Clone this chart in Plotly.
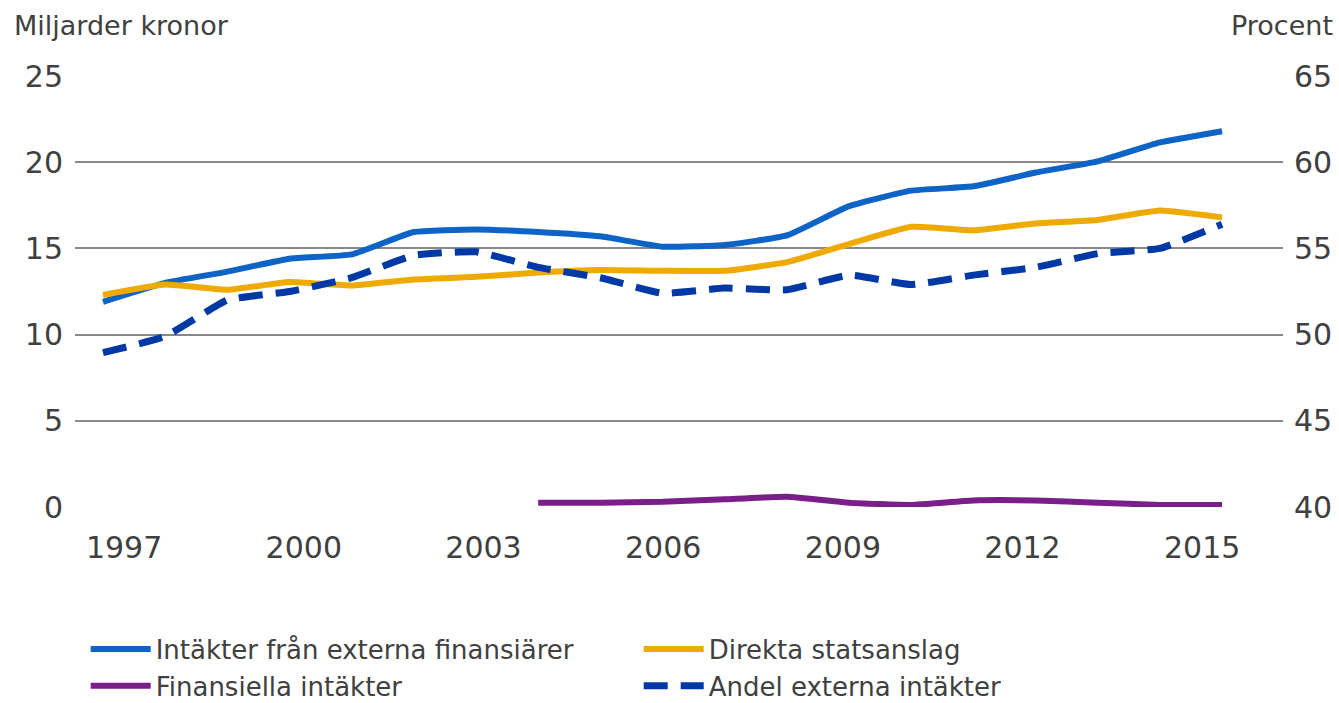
import plotly.graph_objects as go

years = list(range(1997, 2016))

externa = [11.9, 13.0, 13.65, 14.4, 14.65, 15.95, 16.1, 15.95, 15.7, 15.1, 15.2, 15.75,
           17.45, 18.35, 18.6, 19.4, 20.05, 21.15, 21.8]
statsanslag = [12.3, 12.9, 12.6, 13.05, 12.85, 13.2, 13.35, 13.6, 13.75, 13.7, 13.7, 14.2,
               15.25, 16.25, 16.05, 16.45, 16.65, 17.2, 16.8]
fin_years = list(range(2004, 2016))
finansiella = [0.25, 0.25, 0.3, 0.45, 0.6, 0.25, 0.12, 0.38, 0.38, 0.25, 0.12, 0.12]
andel = [48.95, 49.9, 52.0, 52.5, 53.3, 54.6, 54.8, 53.9, 53.3, 52.4, 52.7, 52.6,
         53.45, 52.9, 53.45, 53.9, 54.7, 55.0, 56.4]

tick_years = [1997, 2000, 2003, 2006, 2009, 2012, 2015]
tick_pos = [1997.34 + (y - 1997) * 0.9633 for y in tick_years]

names = ["Intäkter från externa finansiärer", "Direkta statsanslag",
         "Finansiella intäkter", "Andel externa intäkter"]
colors = ["#0D63C6", "#EFAA00", "#7A1E8A", "#0039A6"]

FONT = "DejaVu Sans"
TXT = "#404040"

fig = go.Figure()
fig.add_trace(go.Scatter(x=years, y=externa, name=names[0], mode="lines",
                         line=dict(color=colors[0], width=6, shape="spline", smoothing=0.4)))
fig.add_trace(go.Scatter(x=years, y=statsanslag, name=names[1], mode="lines",
                         line=dict(color=colors[1], width=6, shape="spline", smoothing=0.4)))
fig.add_trace(go.Scatter(x=fin_years, y=finansiella, name=names[2], mode="lines",
                         line=dict(color=colors[2], width=6, shape="spline", smoothing=0.4)))
fig.add_trace(go.Scatter(x=years, y=andel, name=names[3], mode="lines", yaxis="y2",
                         line=dict(color=colors[3], width=7, dash="24px,13px",
                                   shape="spline", smoothing=0.4)))

fig.update_layout(
    width=1339, height=703,
    margin=dict(l=75, r=56, t=76, b=196, autoexpand=False),
    paper_bgcolor="white", plot_bgcolor="white",
    font=dict(family=FONT, color=TXT),
    xaxis=dict(range=[1996.55, 2015.98], tickmode="array", tickvals=tick_pos,
               ticktext=[str(y) for y in tick_years], showgrid=False, zeroline=False,
               showline=False, ticks="", tickfont=dict(size=30, color=TXT),
               ticklabelstandoff=20, automargin=False),
    yaxis=dict(range=[0, 25], dtick=5, tick0=0, showgrid=True, gridcolor="#888888",
               gridwidth=1.5, zeroline=False, showline=False, ticks="",
               tickfont=dict(size=30, color=TXT), ticklabelstandoff=11, automargin=False),
    yaxis2=dict(range=[40, 65], dtick=5, tick0=40, overlaying="y", side="right",
                showgrid=False, zeroline=False, showline=False, ticks="",
                tickfont=dict(size=30, color=TXT), ticklabelstandoff=10, automargin=False),
    legend=dict(orientation="h", xref="container", yref="container",
                x=0.064, xanchor="left", y=0.11, yanchor="top",
                font=dict(size=26, color=TXT), entrywidth=478, entrywidthmode="pixels",
                itemwidth=60, traceorder="normal", bgcolor="rgba(0,0,0,0)"),
    annotations=[
        dict(text="Miljarder kronor", xref="paper", yref="paper", x=-0.0525, y=1.0,
             xanchor="left", yanchor="bottom", yshift=33, showarrow=False,
             font=dict(size=27, color=TXT, family=FONT)),
        dict(text="Procent", xref="paper", yref="paper", x=1.043, y=1.0,
             xanchor="right", yanchor="bottom", yshift=33, showarrow=False,
             font=dict(size=27, color=TXT, family=FONT)),
    ],
)

fig.write_html("out.html", config={"displayModeBar": False},
               post_script="document.body.style.margin='0';document.body.style.overflow='hidden';")
